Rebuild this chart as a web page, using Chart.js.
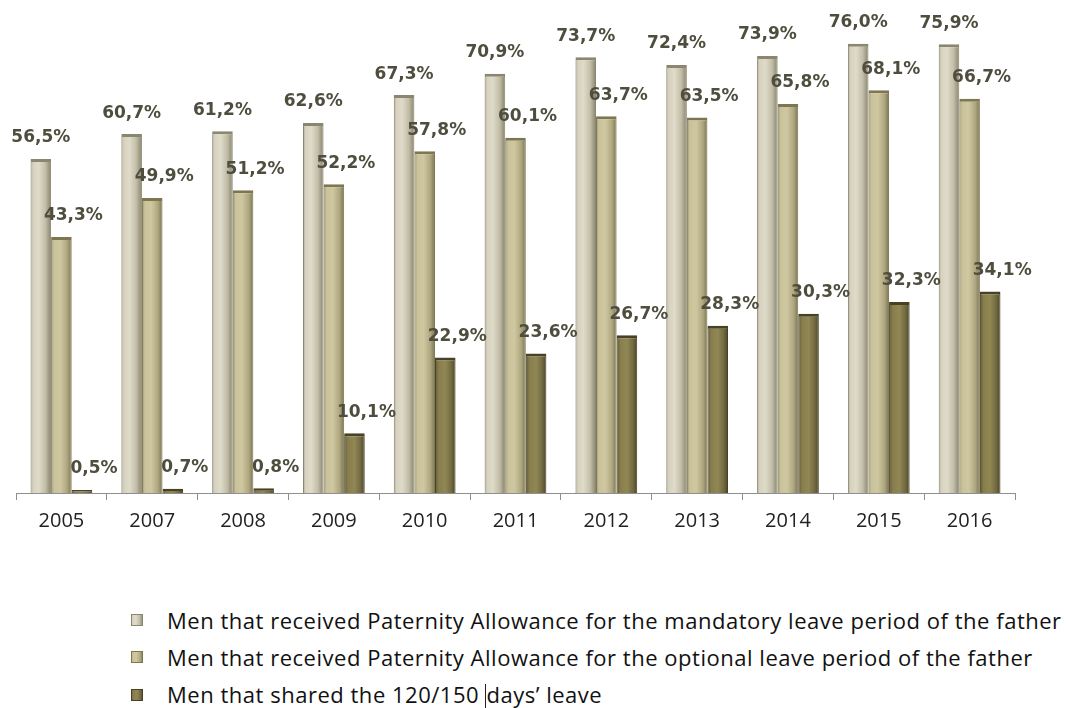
<!DOCTYPE html>
<html>
<head>
<meta charset="utf-8">
<title>Paternity allowance</title>
<script src="https://cdn.jsdelivr.net/npm/chart.js@4.4.1/dist/chart.umd.min.js"></script>
<style>
    html, body { margin: 0; padding: 0; background: #fff; }
    #wrap { position: relative; width: 1067px; height: 708px; overflow: hidden; }
    #chartBox { position: absolute; left: 0; top: 0; width: 1067px; height: 550px; }
    #legend { position: absolute; left: 131px; top: 601px; margin: 0; padding: 0; list-style: none;
              font-family: "Open Sans", sans-serif; font-size: 22px; letter-spacing: 0.52px; color: #111; }
    #legend li { height: 37.5px; line-height: 30px; display: flex; align-items: center; white-space: nowrap; }
    #legend .swatch { width: 12px; height: 12px; margin-right: 24px; flex: none; }
    #legend .caret { display: inline-block; width: 0; height: 26px; border-left: 1px solid #222; vertical-align: -7px; }
</style>
</head>
<body>
<div id="wrap">
    <div id="chartBox"><canvas id="leaveChart"></canvas></div>
    <ul id="legend"></ul>
</div>
<script>
// Years shown on the category axis
const years = ['2005', '2007', '2008', '2009', '2010', '2011', '2012', '2013', '2014', '2015', '2016'];

// Share of men (%) for each indicator
const mandatoryLeave = [56.5, 60.7, 61.2, 62.6, 67.3, 70.9, 73.7, 72.4, 73.9, 76.0, 75.9];
const optionalLeave = [43.3, 49.9, 51.2, 52.2, 57.8, 60.1, 63.7, 63.5, 65.8, 68.1, 66.7];
const sharedLeave = [0.5, 0.7, 0.8, 10.1, 22.9, 23.6, 26.7, 28.3, 30.3, 32.3, 34.1];

const seriesNames = [
    'Men that received Paternity Allowance for the mandatory leave period of the father',
    'Men that received Paternity Allowance for the optional leave period of the father',
    'Men that shared the 120/150 days\u2019 leave'
];

// Shading across each bar (left edge -> right edge) to give a rounded look
const barShades = [
    [[0, '#aaa690'], [0.12, '#d6d2bf'], [0.4, '#dfdbc9'], [0.72, '#c2bea8'], [0.9, '#9c9881'], [1, '#827e68']],
    [[0, '#99926b'], [0.14, '#c9c29b'], [0.45, '#cec79f'], [0.78, '#aea67e'], [1, '#7a7352']],
    [[0, '#5e5734'], [0.18, '#887e4d'], [0.5, '#918754'], [0.8, '#716941'], [1, '#4b4527']]
];
const barEdges = ['#8a866f', '#7d7651', '#474126'];

function fmtPct(v) {
    return v.toFixed(1).replace('.', ',') + '%';
}

// Paint each bar with a horizontal gradient spanning its own width.
// Resolved options are shared between bars, so each bar gets its own copy.
const barShading = {
    id: 'barShading',
    beforeDatasetsDraw(chart) {
        const ctx = chart.ctx;
        chart.data.datasets.forEach((ds, i) => {
            chart.getDatasetMeta(i).data.forEach(bar => {
                const { x, width } = bar.getProps(['x', 'width'], true);
                const g = ctx.createLinearGradient(x - width / 2, 0, x + width / 2, 0);
                barShades[i].forEach(s => g.addColorStop(s[0], s[1]));
                bar.options = Object.assign({}, bar.options, { backgroundColor: g });
            });
        });
    }
};

// Value labels above the bars, e.g. "56,5%"
const valueLabels = {
    id: 'valueLabels',
    afterDatasetsDraw(chart) {
        const ctx = chart.ctx;
        const shift = [0, 12, 12];
        ctx.save();
        ctx.font = 'bold 17px "DejaVu Sans", sans-serif';
        ctx.fillStyle = '#4f4d3d';
        ctx.textAlign = 'center';
        ctx.textBaseline = 'middle';
        chart.data.datasets.forEach((ds, i) => {
            chart.getDatasetMeta(i).data.forEach((bar, j) => {
                const { x, y } = bar.getProps(['x', 'y'], true);
                ctx.fillText(fmtPct(ds.data[j]), x + shift[i], y - 21);
            });
        });
        ctx.restore();
    }
};

const chart = new Chart(document.getElementById('leaveChart'), {
    type: 'bar',
    data: {
        labels: years,
        datasets: [mandatoryLeave, optionalLeave, sharedLeave].map((vals, i) => ({
            label: seriesNames[i],
            data: vals,
            backgroundColor: barShades[i][2][1],
            borderColor: barEdges[i],
            borderWidth: { top: 3, left: 1, right: 1, bottom: 0 },
            borderSkipped: 'bottom',
            categoryPercentage: 0.68,
            barPercentage: 1.0
        }))
    },
    options: {
        responsive: true,
        maintainAspectRatio: false,
        animation: false,
        layout: { padding: { left: 16, right: 52, top: 20, bottom: 0 } },
        plugins: {
            legend: { display: false },
            tooltip: { enabled: false }
        },
        scales: {
            x: {
                grid: { display: true, drawOnChartArea: false, color: '#8f8f8f', tickLength: 7, offset: true },
                border: { display: true, color: '#8f8f8f', width: 1 },
                ticks: {
                    color: '#222222',
                    padding: 9,
                    font: { family: '"Open Sans", sans-serif', size: 20 }
                },
                afterFit: s => { s.height = 57; }
            },
            y: {
                display: false,
                min: 0,
                max: 80
            }
        }
    },
    plugins: [barShading, valueLabels]
});

// Legend list below the chart, built from the datasets
const legendEl = document.getElementById('legend');
chart.data.datasets.forEach((ds, i) => {
    const li = document.createElement('li');
    const sw = document.createElement('span');
    sw.className = 'swatch';
    const stops = barShades[i].map(s => s[1] + ' ' + (s[0] * 100) + '%').join(', ');
    sw.style.background = 'linear-gradient(90deg, ' + stops + ')';
    sw.style.boxShadow = 'inset 0 0 0 1px ' + barEdges[i];
    li.appendChild(sw);
    const txt = document.createElement('span');
    if (i === 2) {
        txt.innerHTML = 'Men that shared the 120/150 <span class="caret"></span>days\u2019 leave';
    } else {
        txt.textContent = ds.label;
    }
    li.appendChild(txt);
    legendEl.appendChild(li);
});
</script>
</body>
</html>
